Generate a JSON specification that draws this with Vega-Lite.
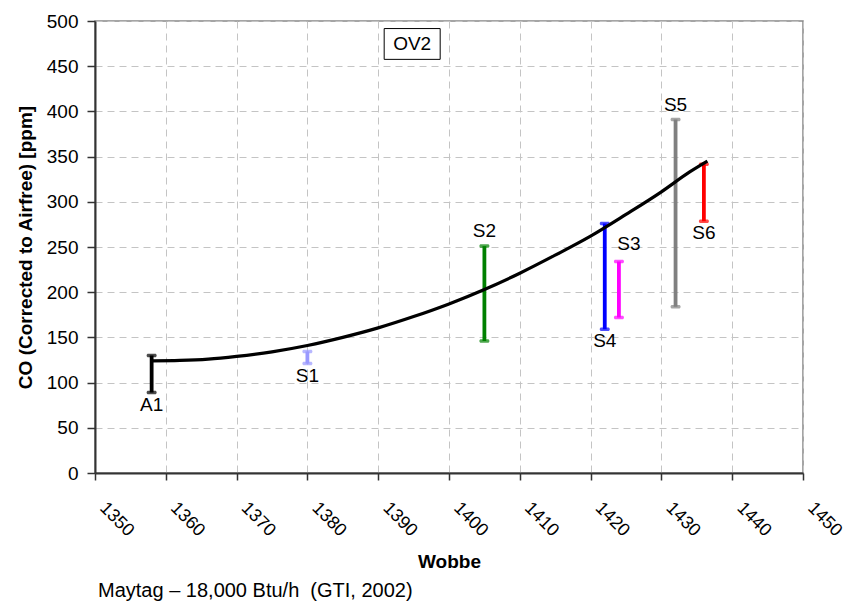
{
  "$schema": "https://vega.github.io/schema/vega-lite/v6.json",
  "width": 708,
  "height": 452,
  "autosize": {"type": "none"},
  "padding": {"left": 95, "top": 21, "right": 46, "bottom": 128},
  "background": "white",
  "config": {
    "font": "Liberation Sans",
    "view": {"stroke": "#888888", "strokeWidth": 1.5},
    "axis": {
      "domainColor": "#333333",
      "domainWidth": 2,
      "tickColor": "#333333",
      "tickWidth": 1.5,
      "gridColor": "#c4c4c4",
      "gridDash": [7, 5],
      "gridWidth": 1,
      "labelFont": "Liberation Sans",
      "labelFontSize": 19,
      "labelColor": "black",
      "titleFont": "Liberation Sans",
      "titleFontSize": 19,
      "titleFontWeight": "bold",
      "titleColor": "black"
    }
  },
  "title": {
    "text": "Maytag – 18,000 Btu/h \u00a0(GTI, 2002)",
    "orient": "bottom",
    "anchor": "start",
    "frame": "group",
    "font": "Liberation Sans",
    "fontSize": 20,
    "fontWeight": "normal",
    "color": "black",
    "offset": 9,
    "dx": 3
  },
  "datasets": {
    "bars": [
      {"label": "A1", "wobbe": 1358, "lo": 89, "hi": 130, "pos": "below"},
      {"label": "S1", "wobbe": 1380, "lo": 121, "hi": 134.5, "pos": "below"},
      {"label": "S2", "wobbe": 1405, "lo": 146, "hi": 251, "pos": "above"},
      {"label": "S4", "wobbe": 1422, "lo": 159, "hi": 276, "pos": "below"},
      {"label": "S3", "wobbe": 1424, "lo": 172, "hi": 234, "pos": "right"},
      {"label": "S5", "wobbe": 1432, "lo": 184, "hi": 391, "pos": "above"},
      {"label": "S6", "wobbe": 1436, "lo": 278.5, "hi": 341.5, "pos": "below"}
    ],
    "curve": [
      {"wobbe": 1358, "co": 124},
      {"wobbe": 1362, "co": 124.5},
      {"wobbe": 1366, "co": 126},
      {"wobbe": 1370, "co": 129},
      {"wobbe": 1375, "co": 134},
      {"wobbe": 1380, "co": 141},
      {"wobbe": 1385, "co": 150},
      {"wobbe": 1390, "co": 160.5},
      {"wobbe": 1395, "co": 173},
      {"wobbe": 1400, "co": 187},
      {"wobbe": 1405, "co": 203},
      {"wobbe": 1410, "co": 221},
      {"wobbe": 1415, "co": 241},
      {"wobbe": 1420, "co": 262},
      {"wobbe": 1425, "co": 286},
      {"wobbe": 1430, "co": 311},
      {"wobbe": 1434, "co": 333},
      {"wobbe": 1436.5, "co": 345}
    ],
    "notes": [
      {"note": "OV2", "wobbe": 1394.8, "co": 474.6}
    ]
  },
  "layer": [
    {
      "data": {"name": "bars"},
      "mark": {"type": "rule", "strokeWidth": 3.8},
      "encoding": {
        "x": {
          "field": "wobbe",
          "type": "quantitative",
          "title": "Wobbe",
          "scale": {"domain": [1350, 1450], "nice": false, "zero": false},
          "axis": {
            "values": [1350, 1360, 1370, 1380, 1390, 1400, 1410, 1420, 1430, 1440, 1450],
            "format": "d",
            "labelAngle": 45,
            "labelAlign": "left",
            "labelBaseline": "middle",
            "labelFontSize": 18,
            "labelOffset": 7,
            "labelPadding": 25,
            "tickSize": 7,
            "titlePadding": 13,
            "labelOverlap": false,
            "labelFlush": false
          }
        },
        "y": {
          "field": "lo",
          "type": "quantitative",
          "title": "CO (Corrected to Airfree) [ppm]",
          "scale": {"domain": [0, 500], "nice": false},
          "axis": {
            "values": [0, 50, 100, 150, 200, 250, 300, 350, 400, 450, 500],
            "tickSize": 8,
            "labelPadding": 9,
            "titlePadding": 11,
            "labelFlush": false
          }
        },
        "y2": {"field": "hi"},
        "color": {
          "field": "label",
          "type": "nominal",
          "legend": null,
          "scale": {
            "domain": ["A1", "S1", "S2", "S4", "S3", "S5", "S6"],
            "range": ["#000000", "#9999FF", "#008000", "#0000FF", "#FF00FF", "#808080", "#FF0000"]
          }
        }
      }
    },
    {
      "data": {"name": "bars"},
      "mark": {"type": "tick", "orient": "horizontal", "size": 10, "thickness": 3.5, "cornerRadius": 1.5},
      "encoding": {
        "x": {"field": "wobbe", "type": "quantitative"},
        "y": {"field": "lo", "type": "quantitative"},
        "color": {"field": "label", "type": "nominal", "legend": null}
      }
    },
    {
      "data": {"name": "bars"},
      "mark": {"type": "tick", "orient": "horizontal", "size": 10, "thickness": 3.5, "cornerRadius": 1.5},
      "encoding": {
        "x": {"field": "wobbe", "type": "quantitative"},
        "y": {"field": "hi", "type": "quantitative"},
        "color": {"field": "label", "type": "nominal", "legend": null}
      }
    },
    {
      "data": {"name": "curve"},
      "mark": {"type": "line", "color": "black", "strokeWidth": 3.2, "interpolate": "monotone"},
      "encoding": {
        "x": {"field": "wobbe", "type": "quantitative"},
        "y": {"field": "co", "type": "quantitative"}
      }
    },
    {
      "data": {"name": "bars"},
      "transform": [{"filter": "datum.pos === 'below'"}],
      "mark": {"type": "text", "baseline": "top", "align": "center", "dy": 3, "fontSize": 19, "font": "Liberation Sans", "color": "black"},
      "encoding": {
        "x": {"field": "wobbe", "type": "quantitative"},
        "y": {"field": "lo", "type": "quantitative"},
        "text": {"field": "label"}
      }
    },
    {
      "data": {"name": "bars"},
      "transform": [{"filter": "datum.pos === 'above'"}],
      "mark": {"type": "text", "baseline": "bottom", "align": "center", "dy": -5, "fontSize": 19, "font": "Liberation Sans", "color": "black"},
      "encoding": {
        "x": {"field": "wobbe", "type": "quantitative"},
        "y": {"field": "hi", "type": "quantitative"},
        "text": {"field": "label"}
      }
    },
    {
      "data": {"name": "bars"},
      "transform": [{"filter": "datum.pos === 'right'"}],
      "mark": {"type": "text", "baseline": "bottom", "align": "center", "dx": 10, "dy": -7, "fontSize": 19, "font": "Liberation Sans", "color": "black"},
      "encoding": {
        "x": {"field": "wobbe", "type": "quantitative"},
        "y": {"field": "hi", "type": "quantitative"},
        "text": {"field": "label"}
      }
    },
    {
      "data": {"name": "notes"},
      "mark": {"type": "point", "shape": "M-1,-0.55H1V0.55H-1Z", "size": 3136, "filled": true, "fill": "white", "stroke": "black", "strokeWidth": 1, "opacity": 1},
      "encoding": {
        "x": {"field": "wobbe", "type": "quantitative"},
        "y": {"field": "co", "type": "quantitative"}
      }
    },
    {
      "data": {"name": "notes"},
      "mark": {"type": "text", "baseline": "middle", "align": "center", "fontSize": 19, "font": "Liberation Sans", "color": "black"},
      "encoding": {
        "x": {"field": "wobbe", "type": "quantitative"},
        "y": {"field": "co", "type": "quantitative"},
        "text": {"field": "note"}
      }
    }
  ]
}
